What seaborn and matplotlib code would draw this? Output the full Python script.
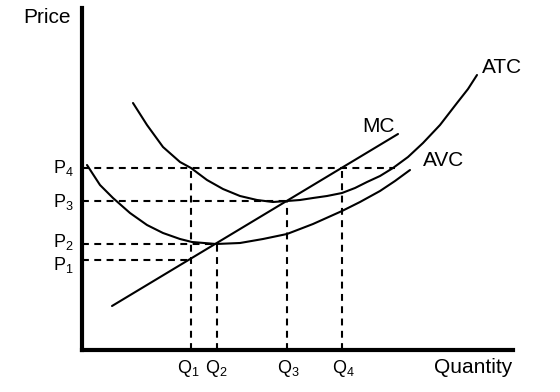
import matplotlib
matplotlib.use("Agg")
import matplotlib.pyplot as plt
import seaborn as sns
import pandas as pd

sns.set_style("white")
plt.rcParams['font.family'] = ['Liberation Sans', 'DejaVu Sans']
plt.rcParams['mathtext.fontset'] = 'custom'
plt.rcParams['mathtext.rm'] = 'Liberation Sans'
plt.rcParams['mathtext.default'] = 'regular'
plt.rcParams['text.color'] = 'black'

# curves (quantity, price)
atc_q = [51, 65, 81, 98, 109, 125, 141, 158, 175, 191, 205, 218, 231, 245,
         260, 273, 285, 298, 311, 326, 341, 358, 375, 386, 395]
atc_p = [247, 225, 203, 188, 182, 170, 161, 154, 150, 148, 149, 150, 152, 154,
         157, 162, 168, 174, 182, 193, 207, 225, 247, 261, 275]

avc_q = [5, 18, 31, 48, 65, 81, 98, 110, 134, 158, 181, 205, 218, 231,
         260, 278, 298, 313, 328]
avc_p = [185, 165, 152, 137, 125, 117, 111, 108, 106, 107, 111, 116, 121, 126,
         139, 148, 159, 169, 180]

mc_q = [30, 316]
mc_p = [44, 216]

# reference levels
q_vals = [109, 135, 205, 260]
p_vals = [90, 106, 149, 182]
q_names = ['$Q_1$', '$Q_2$', '$Q_3$', '$Q_4$']
p_names = ['$P_1$', '$P_2$', '$P_3$', '$P_4$']
# where each dashed line meets its curve
p_line_end = [109, 135, 205, 313]
q_line_top = [182, 106, 149, 182]

fig = plt.figure(figsize=(5.6, 3.92), dpi=100)
ax = fig.add_axes([82 / 560, 42 / 392, 431 / 560, 342 / 392])

lw = 1.5
for q, p in [(atc_q, atc_p), (avc_q, avc_p), (mc_q, mc_p)]:
    df = pd.DataFrame({'q': q, 'p': p})
    sns.lineplot(data=df, x='q', y='p', sort=False, estimator=None,
                 color='black', lw=lw, ax=ax)

dash = (0, (3.3, 2.6))
for p, end in zip(p_vals, p_line_end):
    ax.plot([0, end], [p, p], color='black', lw=lw, linestyle=dash)
for q, top in zip(q_vals, q_line_top):
    ax.plot([q, q], [0, top], color='black', lw=lw, linestyle=dash)

ax.set_xlim(0, 431)
ax.set_ylim(0, 342)
ax.set_xticks([])
ax.set_yticks([])
ax.set_xlabel('')
ax.set_ylabel('')
for s in ['top', 'right']:
    ax.spines[s].set_visible(False)
for s in ['left', 'bottom']:
    ax.spines[s].set_linewidth(3)
    ax.spines[s].set_color('black')

fs_small = 13
p_base = [80, 103, 143, 177]
for name, b in zip(p_names, p_base):
    ax.text(-8, b, name, ha='right', va='baseline', fontsize=fs_small, clip_on=False)
q_center = [106.5, 134.5, 206.5, 261]
for name, c in zip(q_names, q_center):
    ax.text(c, -23, name, ha='center', va='baseline', fontsize=fs_small, clip_on=False)

fs = 15
ax.text(-11, 327, 'Price', ha='right', va='baseline', fontsize=fs, clip_on=False)
ax.text(430, -23, 'Quantity', ha='right', va='baseline', fontsize=fs, clip_on=False)
ax.text(280, 218, 'MC', ha='left', va='baseline', fontsize=fs)
ax.text(341, 184, 'AVC', ha='left', va='baseline', fontsize=fs)
ax.text(400, 277, 'ATC', ha='left', va='baseline', fontsize=fs, clip_on=False)

fig.savefig('out.png', dpi=100)
